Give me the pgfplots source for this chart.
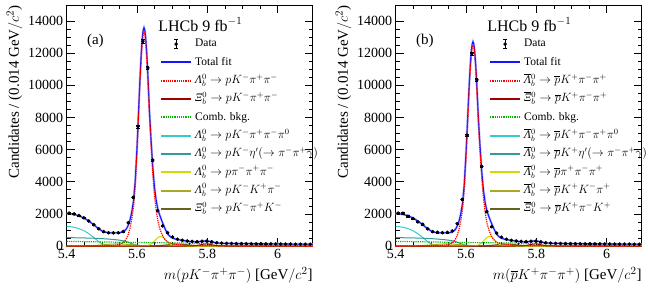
\documentclass[border=0pt]{standalone}
\usepackage{amsmath}
\usepackage{fontspec}
\setmainfont{Liberation Serif}
\usepackage{pgfplots}
\usepackage{pgfplotstable}
\pgfplotsset{compat=1.18}

\DeclareRobustCommand{\LLb}{\mbox{\itshape Λ}}
\DeclareRobustCommand{\XXb}{\mbox{\itshape Ξ}}
\DeclareRobustCommand{\aLb}{\overline{\mbox{\itshape Λ}}}
\DeclareRobustCommand{\aXb}{\overline{\mbox{\itshape Ξ}}}
\DeclareRobustCommand{\ra}{\rightarrow}

\definecolor{fitblue}{RGB}{20,20,255}
\definecolor{sigred}{RGB}{255,0,0}
\definecolor{xired}{RGB}{160,0,0}
\definecolor{combgreen}{RGB}{0,180,0}
\definecolor{cyanc}{RGB}{51,204,204}
\definecolor{tealc}{RGB}{51,153,153}
\definecolor{yellowc}{RGB}{215,215,0}
\definecolor{olivec}{RGB}{170,170,34}
\definecolor{darkolive}{RGB}{100,100,30}

\pgfplotstableread{
x y e
5.407 2045 45
5.421 1995 45
5.435 1895 44
5.449 1755 42
5.463 1555 39
5.477 1330 36
5.491 1075 33
5.505 900 30
5.519 830 29
5.533 815 29
5.547 825 29
5.561 900 30
5.575 1450 38
5.589 3030 55
5.603 7440 86
5.617 12750 113
5.631 11080 105
5.645 5350 73
5.659 2200 47
5.673 1250 35
5.687 830 29
5.701 560 24
5.715 420 20
5.729 355 19
5.743 315 18
5.757 285 17
5.771 270 16
5.785 300 17
5.799 305 17
5.813 265 16
5.827 205 14
5.841 180 13
5.855 165 13
5.869 160 13
5.883 150 12
5.897 150 12
5.911 145 12
5.925 140 12
5.939 135 12
5.953 140 12
5.967 130 11
5.981 130 11
5.995 128 11
6.009 125 11
6.023 120 11
6.037 122 11
6.051 115 11
6.065 112 11
6.079 110 10
6.093 108 10
}\dataa

\pgfplotstableread{
x y e
5.407 2050 45
5.421 2040 45
5.435 1850 43
5.449 1710 41
5.463 1500 39
5.477 1360 37
5.491 1070 33
5.505 900 30
5.519 850 29
5.533 830 29
5.547 850 29
5.561 930 30
5.575 1390 37
5.589 2900 54
5.603 6900 83
5.617 11975 109
5.631 10345 102
5.645 4950 70
5.659 2150 46
5.673 1200 35
5.687 800 28
5.701 550 23
5.715 420 20
5.729 350 19
5.743 310 18
5.757 290 17
5.771 275 17
5.785 295 17
5.799 300 17
5.813 260 16
5.827 200 14
5.841 178 13
5.855 168 13
5.869 158 13
5.883 152 12
5.897 148 12
5.911 146 12
5.925 140 12
5.939 138 12
5.953 135 12
5.967 133 12
5.981 128 11
5.995 127 11
6.009 124 11
6.023 122 11
6.037 118 11
6.051 117 11
6.065 113 11
6.079 110 10
6.093 107 10
}\datab

\pgfplotstableread{
x y
5.40 2035
5.41 2009
5.42 1974
5.43 1912
5.44 1831
5.45 1732
5.46 1596
5.47 1435
5.48 1268
5.49 1084
5.50 943
5.51 859
5.52 822
5.53 813
5.54 817
5.55 829
5.555 848
5.56 883
5.565 950
5.57 1068
5.575 1285
5.58 1604
5.585 2103
5.59 2801
5.595 4059
5.60 6120
5.6025 7362
5.605 8650
5.6075 9923
5.61 11106
5.6125 12127
5.615 12919
5.6175 13419
5.62 13589
5.6225 13418
5.625 12912
5.6275 12116
5.63 11093
5.6325 9911
5.635 8641
5.6375 7604
5.64 6634
5.645 4917
5.65 3625
5.655 2792
5.66 2242
5.665 1906
5.67 1607
5.675 1327
5.68 1069
5.685 850
5.69 683
5.695 578
5.70 510
5.71 426
5.72 384
5.73 351
5.74 310
5.75 279
5.76 255
5.77 251
5.78 278
5.79 310
5.80 314
5.81 273
5.82 220
5.83 186
5.84 172
5.85 165
5.86 162
5.87 159
5.88 155
5.89 152
5.90 150
5.92 145
5.94 140
5.96 137
5.98 132
6.00 129
6.02 125
6.04 121
6.06 117
6.08 114
6.10 111
}\totala

\pgfplotstableread{
x y
5.40 2035
5.41 2009
5.42 1974
5.43 1912
5.44 1831
5.45 1732
5.46 1596
5.47 1435
5.48 1268
5.49 1084
5.50 943
5.51 859
5.52 822
5.53 813
5.54 817
5.55 823
5.555 839
5.56 870
5.565 930
5.57 1038
5.575 1238
5.58 1532
5.585 1996
5.59 2645
5.595 3819
5.60 5743
5.6025 6903
5.605 8107
5.6075 9296
5.61 10401
5.6125 11355
5.615 12095
5.6175 12562
5.62 12721
5.6225 12561
5.625 12088
5.6275 11344
5.63 10388
5.6325 9284
5.635 8098
5.6375 7129
5.64 6224
5.645 4624
5.65 3423
5.655 2652
5.66 2144
5.665 1836
5.67 1556
5.675 1291
5.68 1043
5.685 831
5.69 669
5.695 566
5.70 500
5.71 419
5.72 379
5.73 351
5.74 310
5.75 279
5.76 255
5.77 251
5.78 278
5.79 310
5.80 314
5.81 273
5.82 220
5.83 186
5.84 172
5.85 165
5.86 162
5.87 159
5.88 155
5.89 152
5.90 150
5.92 145
5.94 140
5.96 137
5.98 132
6.00 129
6.02 125
6.04 121
6.06 117
6.08 114
6.10 111
}\totalb

\pgfplotstableread{
x y
5.40 5
5.42 6
5.44 8
5.46 10
5.48 14
5.50 22
5.52 30
5.53 40
5.54 60
5.55 100
5.555 140
5.56 200
5.565 300
5.57 460
5.575 720
5.58 1100
5.585 1650
5.59 2400
5.595 3700
5.60 5800
5.6025 7058
5.605 8360
5.6075 9646
5.61 10840
5.6125 11870
5.615 12670
5.6175 13177
5.62 13350
5.6225 13177
5.625 12670
5.6275 11870
5.63 10840
5.6325 9646
5.635 8360
5.6375 7300
5.64 6300
5.645 4500
5.65 3100
5.655 2150
5.66 1500
5.665 1080
5.67 780
5.675 560
5.68 400
5.685 290
5.69 220
5.695 185
5.70 160
5.71 110
5.72 80
5.73 62
5.74 45
5.76 32
5.78 22
5.80 17
5.85 10
5.90 6
6.00 3
6.10 2
}\siga

\pgfplotstableread{
x y
5.40 5
5.42 6
5.44 7
5.46 9
5.48 13
5.50 21
5.52 28
5.53 37
5.54 56
5.55 94
5.555 131
5.56 187
5.565 280
5.57 430
5.575 673
5.58 1028
5.585 1543
5.59 2244
5.595 3460
5.60 5423
5.6025 6599
5.605 7817
5.6075 9019
5.61 10135
5.6125 11098
5.615 11846
5.6175 12320
5.62 12482
5.6225 12320
5.625 11846
5.6275 11098
5.63 10135
5.6325 9019
5.635 7817
5.6375 6826
5.64 5890
5.645 4207
5.65 2898
5.655 2010
5.66 1402
5.665 1010
5.67 729
5.675 524
5.68 374
5.685 271
5.69 206
5.695 173
5.70 150
5.71 103
5.72 75
5.73 58
5.74 42
5.76 30
5.78 21
5.80 16
5.85 9
5.90 6
6.00 3
6.10 2
}\sigb

\pgfplotstableread{
x y
5.40 290
5.45 270
5.50 252
5.55 235
5.60 219
5.65 205
5.70 191
5.75 178
5.80 166
5.85 155
5.90 144
5.95 135
6.00 126
6.05 118
6.10 109
}\comb

\pgfplotstableread{
x y
5.40 1220
5.41 1200
5.42 1170
5.43 1115
5.44 1040
5.45 945
5.46 810
5.47 650
5.48 480
5.49 290
5.50 140
5.51 50
5.52 10
5.53 0
6.10 0
}\cyanbk

\pgfplotstableread{
x y
5.40 520
5.41 518
5.42 515
5.43 510
5.44 505
5.45 500
5.46 495
5.47 488
5.48 480
5.49 470
5.50 460
5.51 445
5.52 430
5.53 410
5.54 390
5.55 365
5.555 348
5.56 330
5.565 305
5.57 272
5.575 240
5.58 190
5.585 150
5.59 110
5.595 78
5.60 50
5.605 30
5.61 15
5.615 6
5.62 0
6.10 0
}\tealbk

\pgfplotstableread{
x y
5.40 0
5.61 0
5.62 4
5.625 12
5.63 29
5.635 62
5.64 119
5.645 205
5.65 316
5.655 436
5.66 538
5.665 595
5.67 588
5.675 520
5.68 412
5.685 292
5.69 185
5.695 105
5.70 53
5.71 10
5.72 0
6.10 0
}\yellowbk

\pgfplotstableread{
x y
5.40 0
5.42 1
5.44 4
5.46 14
5.48 35
5.50 69
5.51 89
5.52 107
5.53 121
5.54 129
5.55 129
5.56 121
5.57 107
5.58 89
5.59 69
5.60 51
5.61 35
5.62 22
5.63 14
5.64 8
5.65 4
5.66 2
5.68 0
6.10 0
}\olivebk

\pgfplotstableread{
x y
5.40 0
5.62 0
5.64 5
5.65 11
5.66 22
5.67 39
5.68 61
5.69 85
5.70 106
5.71 118
5.72 118
5.73 106
5.74 85
5.75 61
5.76 39
5.77 22
5.78 11
5.79 5
5.80 2
5.82 0
6.10 0
}\dolivebk

\pgfplotstableread{
x y
5.40 0
5.74 0
5.75 2
5.76 9
5.77 31
5.78 74
5.79 118
5.80 129
5.81 93
5.82 46
5.83 15
5.84 4
5.85 0
6.10 0
}\xibk

\tikzset{
  sigst/.style={sigred, densely dotted, line width=1.2pt},
  xist/.style={xired, line width=1pt},
  combst/.style={combgreen, densely dotted, line width=1.2pt},
  cyanst/.style={cyanc, line width=1pt},
  tealst/.style={tealc, line width=1pt},
  yellowst/.style={yellowc, line width=1pt},
  olivest/.style={olivec, line width=1pt},
  dolivest/.style={darkolive, line width=1pt},
  fitst/.style={fitblue, line width=1.1pt},
}

\pgfplotsset{
  lhcb/.style={
    width=246pt, height=241pt, scale only axis,
    xmin=5.4, xmax=6.1, ymin=0, ymax=15000,
    xtick={5.4,5.6,5.8,6.0}, xticklabels={5.4,5.6,5.8,6},
    minor x tick num=3,
    ytick={0,2000,4000,6000,8000,10000,12000,14000},
    minor y tick num=3,
    tick align=inside, major tick length=8pt, minor tick length=4pt,
    xtick pos=both, ytick pos=both,
    scaled y ticks=false,
    /pgf/number format/assume math mode=true,
    yticklabel style={/pgf/number format/1000 sep={}},
    ticklabel style={font=\fontsize{14}{16}\selectfont},
    axis line style={line width=0.8pt},
    every tick/.style={black, line width=0.6pt},
    ylabel={Candidates / (0.014 GeV$/c^2$)},
    every axis y label/.style={at={(rel axis cs:0,1)}, xshift=-44pt, rotate=90, anchor=south east, inner sep=0pt, font=\fontsize{15}{17}\selectfont},
    every axis x label/.style={at={(rel axis cs:1,0)}, yshift=-21pt, anchor=north east, inner sep=0pt, font=\fontsize{15}{17}\selectfont},
    legend image code/.code={\draw[##1, line width=2pt] (0pt,0pt) -- (30pt,0pt);},
    legend style={at={(rel axis cs:0.379,0.86)}, anchor=north west, draw=none, fill=none,
      font=\fontsize{11.5}{13}\selectfont, inner sep=0pt, row sep=7.8pt, column sep=3pt,
      nodes={inner sep=0pt, text height=8pt, text depth=2.5pt}},
    legend cell align=left,
    clip=true,
  },
  datalegend/.style={legend image code/.code={%
     \draw[black, line width=0.6pt] (15pt,-4.5pt) -- (15pt,4.5pt) (13pt,4.5pt) -- (17pt,4.5pt) (13pt,-4.5pt) -- (17pt,-4.5pt);
     \fill[black] (15pt,0pt) circle (1.6pt);}},
}

\begin{document}
\begin{tikzpicture}
\path (-66.7pt,-44pt) rectangle (581.3pt,246pt);

\begin{axis}[lhcb, at={(0pt,0pt)}, anchor=south west,
  xlabel={$m(pK^-\pi^+\pi^-)$ [GeV$/c^2$]}]
  \addlegendimage{datalegend}
  \addlegendentry{Data}
  \addlegendimage{fitst}
  \addlegendentry{Total fit}
  \addlegendimage{sigst}
  \addlegendentry{$\LLb_b^0 \ra pK^-\pi^+\pi^-$}
  \addlegendimage{xist}
  \addlegendentry{$\XXb_b^0 \ra pK^-\pi^+\pi^-$}
  \addlegendimage{combst}
  \addlegendentry{Comb. bkg.}
  \addlegendimage{cyanst}
  \addlegendentry{$\LLb_b^0 \ra pK^-\pi^+\pi^-\pi^0$}
  \addlegendimage{tealst}
  \addlegendentry{$\LLb_b^0 \ra pK^-\eta'(\ra\pi^-\pi^+\gamma)$}
  \addlegendimage{yellowst}
  \addlegendentry{$\LLb_b^0 \ra p\pi^-\pi^+\pi^-$}
  \addlegendimage{olivest}
  \addlegendentry{$\LLb_b^0 \ra pK^-K^+\pi^-$}
  \addlegendimage{dolivest}
  \addlegendentry{$\XXb_b^0 \ra pK^-\pi^+K^-$}

  \addplot[cyanst, forget plot] table {\cyanbk};
  \addplot[tealst, forget plot] table {\tealbk};
  \addplot[olivest, forget plot] table {\olivebk};
  \addplot[dolivest, forget plot] table {\dolivebk};
  \addplot[yellowst, forget plot] table {\yellowbk};
  \addplot[xist, forget plot] table {\xibk};
  \addplot[combst, forget plot] table {\comb};
  \addplot[fitblue!22, line width=2.4pt, forget plot] table {\totala};
  \addplot[fitst, forget plot] table {\totala};
  \addplot[sigst, forget plot] table {\siga};
  \addplot[only marks, mark=*, mark size=1.6pt, black, forget plot,
    error bars/.cd, y dir=both, y explicit, error bar style={line width=0.6pt}]
    table[x=x, y=y, y error=e] {\dataa};

  \node[anchor=north west, inner sep=0pt, font=\fontsize{16}{18}\selectfont] at (rel axis cs:0.372,0.948) {LHCb 9 fb$^{-1}$};
  \node[anchor=west, inner sep=0pt, font=\fontsize{15}{17}\selectfont] at (rel axis cs:0.082,0.851) {(a)};
\end{axis}

\begin{axis}[lhcb, at={(329pt,0pt)}, anchor=south west,
  xlabel={$m(\overline{p}K^+\pi^-\pi^+)$ [GeV$/c^2$]}]
  \addlegendimage{datalegend}
  \addlegendentry{Data}
  \addlegendimage{fitst}
  \addlegendentry{Total fit}
  \addlegendimage{sigst}
  \addlegendentry{$\aLb{}_b^0 \ra \overline{p}K^+\pi^-\pi^+$}
  \addlegendimage{xist}
  \addlegendentry{$\aXb{}_b^0 \ra \overline{p}K^+\pi^-\pi^+$}
  \addlegendimage{combst}
  \addlegendentry{Comb. bkg.}
  \addlegendimage{cyanst}
  \addlegendentry{$\aLb{}_b^0 \ra \overline{p}K^+\pi^-\pi^+\pi^0$}
  \addlegendimage{tealst}
  \addlegendentry{$\aLb{}_b^0 \ra \overline{p}K^+\eta'(\ra\pi^-\pi^+\gamma)$}
  \addlegendimage{yellowst}
  \addlegendentry{$\aLb{}_b^0 \ra \overline{p}\pi^+\pi^-\pi^+$}
  \addlegendimage{olivest}
  \addlegendentry{$\aLb{}_b^0 \ra \overline{p}K^+K^-\pi^+$}
  \addlegendimage{dolivest}
  \addlegendentry{$\aXb{}_b^0 \ra \overline{p}K^+\pi^-K^+$}

  \addplot[cyanst, forget plot] table {\cyanbk};
  \addplot[tealst, forget plot] table {\tealbk};
  \addplot[olivest, forget plot] table {\olivebk};
  \addplot[dolivest, forget plot] table {\dolivebk};
  \addplot[yellowst, forget plot] table {\yellowbk};
  \addplot[xist, forget plot] table {\xibk};
  \addplot[combst, forget plot] table {\comb};
  \addplot[fitblue!22, line width=2.4pt, forget plot] table {\totalb};
  \addplot[fitst, forget plot] table {\totalb};
  \addplot[sigst, forget plot] table {\sigb};
  \addplot[only marks, mark=*, mark size=1.6pt, black, forget plot,
    error bars/.cd, y dir=both, y explicit, error bar style={line width=0.6pt}]
    table[x=x, y=y, y error=e] {\datab};

  \node[anchor=north west, inner sep=0pt, font=\fontsize{16}{18}\selectfont] at (rel axis cs:0.372,0.948) {LHCb 9 fb$^{-1}$};
  \node[anchor=west, inner sep=0pt, font=\fontsize{15}{17}\selectfont] at (rel axis cs:0.082,0.851) {(b)};
\end{axis}
\end{tikzpicture}
\end{document}
